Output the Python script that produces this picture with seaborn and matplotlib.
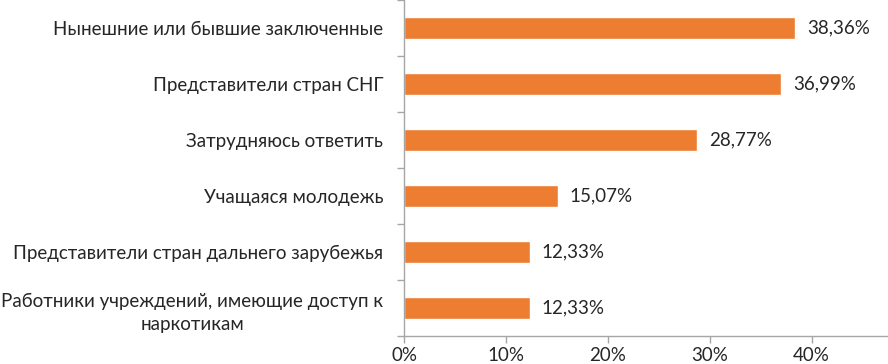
import matplotlib.pyplot as plt
import matplotlib.ticker as mticker
import numpy as np
import pandas as pd
import seaborn as sns

categories = [
    'Нынешние или бывшие заключенные',
    'Представители стран СНГ',
    'Затрудняюсь ответить',
    'Учащаяся молодежь',
    'Представители стран дальнего зарубежья',
    'Работники учреждений, имеющие доступ к\nнаркотикам',
]
values = [38.36, 36.99, 28.77, 15.07, 12.33, 12.33]
xticks = [0, 10, 20, 30, 40]

df = pd.DataFrame({'cat': categories, 'val': values})

sns.set_style('white')
plt.rcParams['font.family'] = ['Lato', 'DejaVu Sans']

fig = plt.figure(figsize=(8.88, 3.64), dpi=100)
ax = fig.add_axes([0.455, 0.077, 0.545, 0.923])

sns.barplot(data=df, x='val', y='cat', color='#ED7D31', width=0.38, saturation=1, ax=ax)

ax.set_xlim(0, 47.5)
ax.set_ylim(len(categories) - 0.5, -0.5)
ax.set_xticks(xticks)
ax.set_xticklabels([f'{t}%' for t in xticks], fontsize=13.5)
ax.set_xlabel('')
ax.set_ylabel('')

ax.tick_params(axis='y', length=0, pad=15, labelsize=13.5)
for lbl in ax.get_yticklabels():
    lbl.set_multialignment('center')
    lbl.set_linespacing(1.45)
ax.yaxis.set_minor_locator(mticker.FixedLocator(np.arange(-0.5, len(categories), 1.0)))
ax.tick_params(axis='y', which='minor', length=5, color='#A6A6A6', width=1, left=True)
ax.tick_params(axis='x', length=5, color='#A6A6A6', width=1, bottom=True, pad=3)

for s in ['top', 'right']:
    ax.spines[s].set_visible(False)
for s in ['left', 'bottom']:
    ax.spines[s].set_color('#A6A6A6')
    ax.spines[s].set_linewidth(1)

for i, v in enumerate(values):
    ax.text(v + 1.2, i, f'{v:.2f}%'.replace('.', ','), va='center', ha='left', fontsize=13.5)

fig.savefig('out.png', dpi=100)
